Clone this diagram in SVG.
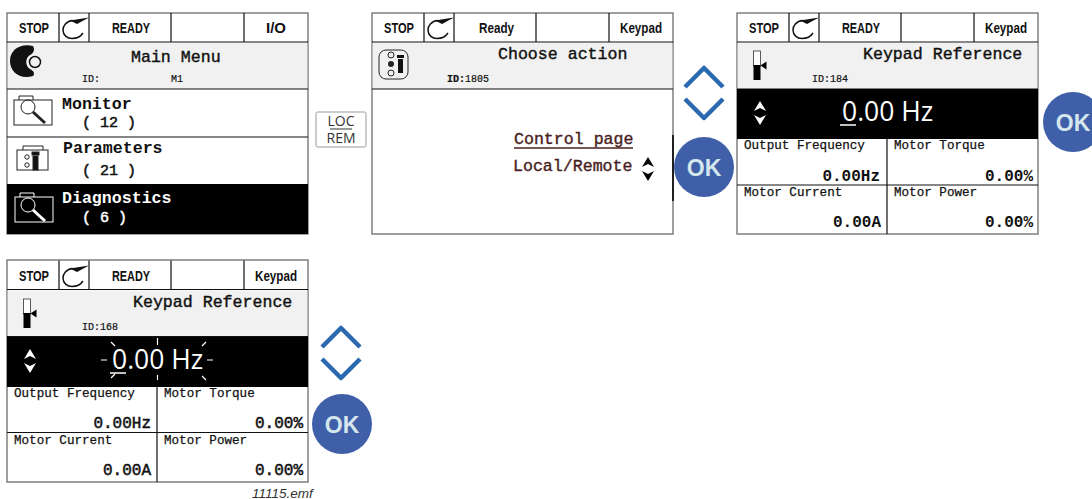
<svg xmlns="http://www.w3.org/2000/svg" width="1092" height="499" viewBox="0 0 1092 499">
<style>
.frame{fill:#fff;stroke:#777;stroke-width:1.4}
.band{fill:#f0f1f0}
.ln{stroke:#111;stroke-width:1.2;fill:none}
.blk{fill:#000}
.st{font:bold 15px "Liberation Sans",Arial,sans-serif;fill:#111}
.m{font-family:"Liberation Mono","Courier New",monospace;fill:#111}
.title{font-size:16.6px;stroke:#111;stroke-width:.4}
.id{font-size:10px;stroke:#111;stroke-width:.2}
.item{font-size:16.6px;font-weight:bold}
.cnt{font-size:15px;stroke:#111;stroke-width:.5}
.lab{font-size:12.6px;stroke:#111;stroke-width:.25}
.val{font-size:16px;font-weight:bold;text-anchor:end}
.val2{font-size:16px;text-anchor:end;stroke:#111;stroke-width:.5}
.wht{fill:#fff;stroke:#fff}
.sel{font-size:16.6px;fill:#4a1f1f;stroke:#4a1f1f;stroke-width:.4}
.big{font:400 26.5px "Open Sans","Liberation Sans",sans-serif;fill:#fff}
.chev{fill:none;stroke:#2a69b0;stroke-width:4.5;stroke-linejoin:round}
.okc{fill:#3f5fa9}
.okt{font:bold 23px "Liberation Sans",Arial,sans-serif;fill:#d5e6ec;text-anchor:middle}
</style>
<defs>
<g id="chevrons"><path class="chev" d="M-19 20L0 1L19 20"/><path class="chev" d="M-19 32L0 51L19 32"/></g>
<g id="ok"><circle class="okc" r="30"/><text class="okt" y="8.500">OK</text></g>
<g id="arrows"><path d="M-6 -2L0 -12L6 -2L0 -5Z M-6 2L0 12L6 2L0 5Z"/></g>
<g id="refresh"><path d="M-1 -7.500C-8 -7 -11 -2 -11 2C-11 7 -7 10.500 -2 10.500C3 10.500 7 8 9 5" fill="none" stroke="#111" stroke-width="1.500"/><path d="M-4 -7.500L15 -10.500L3 -4Z" fill="#111"/></g>
<g id="bar"><rect x="0" y="0" width="7" height="15" fill="#fff" stroke="#333" stroke-width=".8"/><rect x="0" y="14" width="7" height="15" fill="#000"/><path d="M7 14.500L13 10.500V18.500Z" fill="#000"/></g>
<g id="rows">
<rect class="band" x="0.700" y="30" width="299.600" height="46"/>
<path class="ln" d="M52 0V29M82 0V29M164 0V29M237 0V29M0 29H301M0 76H301"/>
</g>
</defs>

<g id="screen-main-menu">
<rect class="frame" x="7" y="13" width="301" height="221"/>
<use href="#rows" x="7" y="13"/>
<rect class="blk" x="7" y="184" width="301" height="50"/>
<path class="ln" d="M7 137H308"/>
<text class="st" x="19" y="33" textLength="30" lengthAdjust="spacingAndGlyphs">STOP</text>
<use href="#refresh" x="74" y="28"/>
<text class="st" x="112" y="33" textLength="38" lengthAdjust="spacingAndGlyphs">READY</text>
<text class="st" x="266" y="33" textLength="20" lengthAdjust="spacingAndGlyphs">I/O</text>
<path d="M33 46C20 43 10 50 10 61C10 72 20 80 33 76C35 74 34 71 30 69C25 66 25 58 30 55C34 53 35 49 33 46Z" fill="#111"/>
<circle cx="35" cy="62" r="5.500" fill="#f0f1f0" stroke="#111" stroke-width="1.500"/>
<text class="m title" x="131" y="62">Main Menu</text>
<text class="m id" x="82" y="82">ID:</text>
<text class="m id" x="171" y="82">M1</text>
<g id="icon-monitor" stroke="#222" fill="none"><rect x="14" y="100" width="38" height="25"/><path d="M19 100v-4h14v4"/><circle cx="28" cy="107" r="7"/><path d="M33 112L45 123" stroke-width="3"/></g>
<text class="m item" x="62" y="109">Monitor</text>
<text class="m cnt" x="82" y="127">( 12 )</text>
<g id="icon-parameters" stroke="#222" fill="none"><rect x="17" y="150" width="31" height="20"/><path d="M23 150v-4h20v4"/><circle cx="27" cy="157" r="2.200"/><circle cx="27" cy="165" r="2.200"/><rect x="33" y="156" width="5" height="14" fill="#111"/><rect x="32" y="152" width="7" height="3" fill="#111"/></g>
<text class="m item" x="63" y="153">Parameters</text>
<text class="m cnt" x="82" y="175">( 21 )</text>
<g id="icon-diagnostics" stroke="#fff" fill="none"><rect x="15" y="197" width="38" height="25"/><path d="M20 197v-4h14v4"/><circle cx="28" cy="205" r="7"/><path d="M33 210L45 221" stroke-width="3"/></g>
<text class="m item" x="62" y="203" style="fill:#fff">Diagnostics</text>
<text class="m cnt wht" x="82" y="222">( 6 )</text>
</g>

<g id="key-loc-rem">
<rect x="316" y="112" width="50" height="35" rx="1.500" fill="#fff" stroke="#999"/>
<text x="341" y="126" text-anchor="middle" font-family="Open Sans, Liberation Sans, sans-serif" font-size="14" fill="#333">LOC</text>
<path d="M330 129H352" stroke="#333"/>
<text x="341" y="143" text-anchor="middle" font-family="Open Sans, Liberation Sans, sans-serif" font-size="14" fill="#333">REM</text>
</g>

<g id="screen-choose-action">
<rect class="frame" x="372" y="13" width="301" height="221"/>
<use href="#rows" x="372" y="13"/>
<text class="st" x="384" y="33" textLength="30" lengthAdjust="spacingAndGlyphs">STOP</text>
<use href="#refresh" x="439" y="28"/>
<text class="st" x="479" y="33" textLength="35" lengthAdjust="spacingAndGlyphs">Ready</text>
<text class="st" x="620" y="33" textLength="42" lengthAdjust="spacingAndGlyphs">Keypad</text>
<g id="icon-action"><rect x="379" y="50" width="29" height="29" rx="7" fill="none" stroke="#222"/><circle cx="391" cy="55" r="3" fill="none" stroke="#222"/><circle cx="391" cy="64" r="3" fill="#222"/><circle cx="391" cy="73" r="3" fill="none" stroke="#222"/><rect x="398" y="59" width="5" height="14" fill="#111"/><rect x="397" y="55" width="7" height="3" fill="#111"/></g>
<text class="m title" x="498" y="59">Choose action</text>
<text class="m id" x="447" y="82"><tspan font-weight="bold">ID:</tspan>1805</text>
<text class="m sel" x="514" y="144">Control page</text>
<path d="M514 148H633" stroke="#4a1f1f" stroke-width="1.600"/>
<text class="m sel" x="513" y="171">Local/Remote</text>
<use href="#arrows" x="648" y="169"/>
<path d="M673 135V201" stroke="#000" stroke-width="1.600"/>
</g>
<use id="nav-up-down-1" href="#chevrons" x="704" y="67"/>
<use id="ok-button-1" href="#ok" x="704" y="167"/>

<g id="screen-keypad-reference-184">
<rect class="frame" x="737" y="13" width="301" height="221"/>
<use href="#rows" x="737" y="13"/>
<rect class="blk" x="737" y="89" width="301" height="50"/>
<path class="ln" d="M737 185H1038M887 139V234"/>
<text class="st" x="749" y="33" textLength="30" lengthAdjust="spacingAndGlyphs">STOP</text>
<use href="#refresh" x="804" y="28"/>
<text class="st" x="842" y="33" textLength="38" lengthAdjust="spacingAndGlyphs">READY</text>
<text class="st" x="985" y="33" textLength="42" lengthAdjust="spacingAndGlyphs">Keypad</text>
<use href="#bar" x="753.500" y="51"/>
<text class="m title" x="863" y="59">Keypad Reference</text>
<text class="m id" x="812" y="82">ID:184</text>
<use href="#arrows" x="760" y="113" fill="#fff"/>
<text class="big" x="842" y="121">0.00 Hz</text>
<path d="M840 125H856" stroke="#fff" stroke-width="1.500"/>
<text class="m lab" x="744" y="149">Output Frequency</text>
<text class="m lab" x="894" y="149">Motor Torque</text>
<text class="m val" x="880" y="181">0.00Hz</text>
<text class="m val" x="1033" y="181">0.00%</text>
<text class="m lab" x="744" y="196">Motor Current</text>
<text class="m lab" x="894" y="196">Motor Power</text>
<text class="m val" x="881" y="227">0.00A</text>
<text class="m val" x="1033" y="227">0.00%</text>
</g>
<use id="ok-button-2" href="#ok" x="1073" y="122"/>

<g id="screen-keypad-reference-168">
<rect class="frame" x="7" y="260" width="301" height="222"/>
<use href="#rows" x="7" y="260.500"/>
<rect class="blk" x="7" y="337" width="301" height="50"/>
<path class="ln" d="M7 432.500H308M157 387V482"/>
<text class="st" x="19" y="281" textLength="30" lengthAdjust="spacingAndGlyphs">STOP</text>
<use href="#refresh" x="74" y="276"/>
<text class="st" x="112" y="281" textLength="38" lengthAdjust="spacingAndGlyphs">READY</text>
<text class="st" x="255" y="281" textLength="42" lengthAdjust="spacingAndGlyphs">Keypad</text>
<use href="#bar" x="23.500" y="299"/>
<text class="m title" x="133" y="307">Keypad Reference</text>
<text class="m id" x="82" y="330">ID:168</text>
<use href="#arrows" x="30" y="361" fill="#fff"/>
<text class="big" x="112" y="369">0.00 Hz</text>
<path d="M110 373H126" stroke="#fff" stroke-width="1.500"/>
<path id="blink-rays" d="M101 360H107M207 360H213M157.500 338V345M157.500 375V380M111 342L115 346M206 342L202 346M111 378L115 374M206 380L202 376" stroke="#fff" stroke-width="1.200" fill="none"/>
<text class="m lab" x="14" y="397">Output Frequency</text>
<text class="m lab" x="164" y="397">Motor Torque</text>
<text class="m val2" x="151" y="428">0.00Hz</text>
<text class="m val2" x="303" y="428">0.00%</text>
<text class="m lab" x="14" y="444">Motor Current</text>
<text class="m lab" x="164" y="444">Motor Power</text>
<text class="m val2" x="151" y="475">0.00A</text>
<text class="m val2" x="303" y="475">0.00%</text>
</g>
<use id="nav-up-down-2" href="#chevrons" x="341" y="327"/>
<use id="ok-button-3" href="#ok" x="342" y="424"/>
<text id="file-name" x="252" y="498" font-family="Liberation Sans, Arial, sans-serif" font-size="13.500" font-style="italic" fill="#333">11115.emf</text>
</svg>
